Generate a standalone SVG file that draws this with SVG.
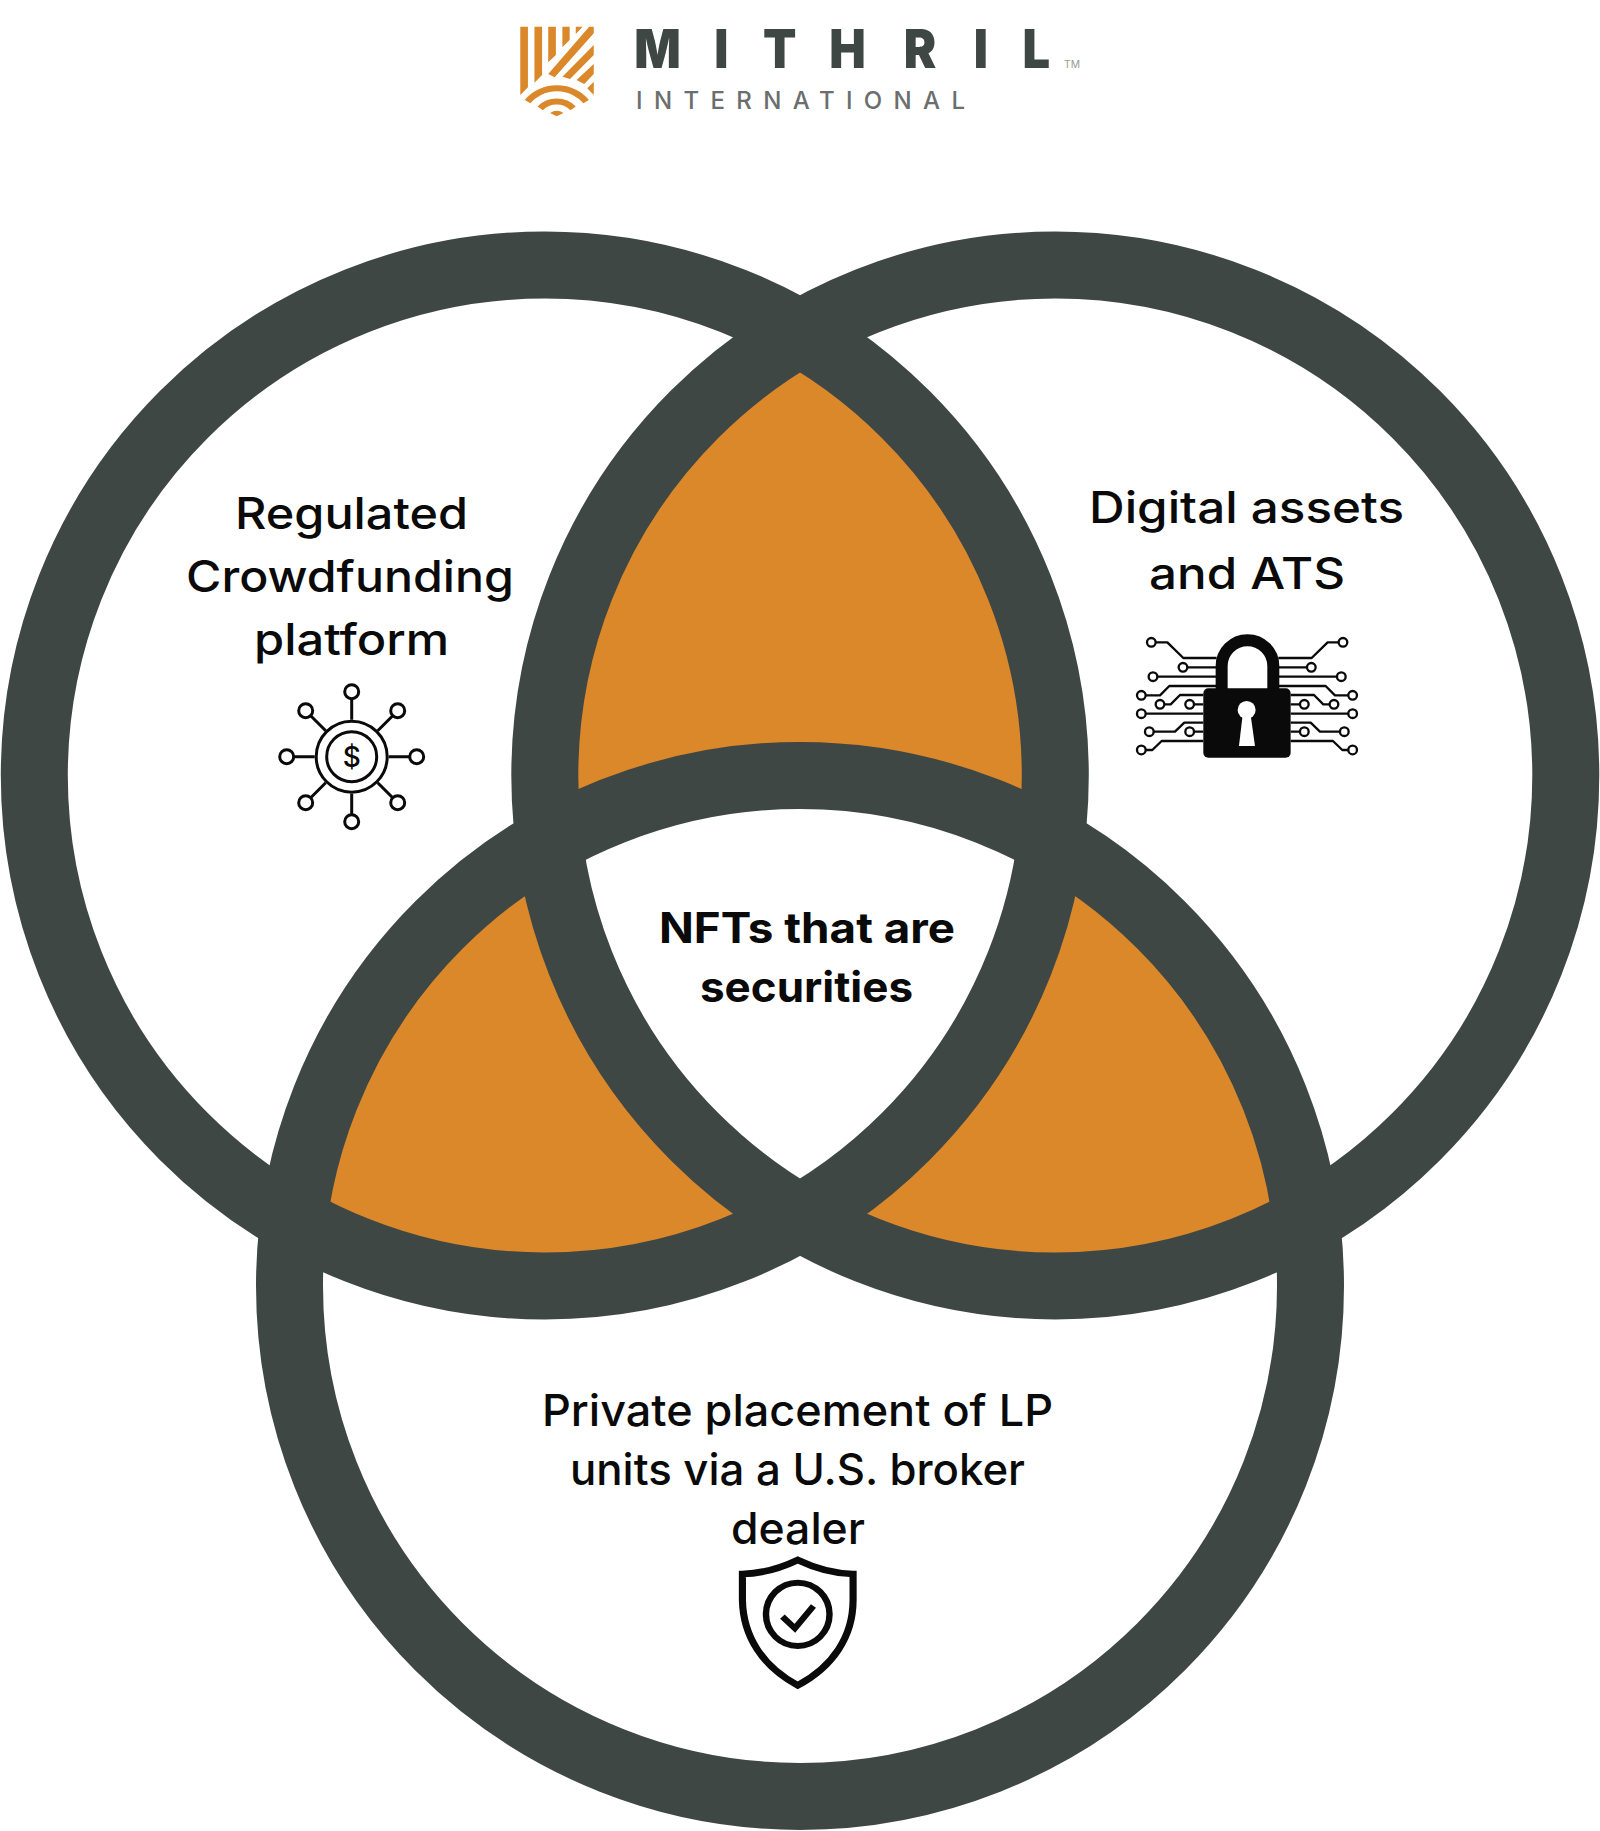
<svg xmlns="http://www.w3.org/2000/svg" width="1600" height="1831" viewBox="0 0 1600 1831">
<style>
.ring{fill:none;stroke:#3f4745;stroke-width:67}
.orange{fill:#da882a}
.lbl{font-family:"Inter","Liberation Sans",sans-serif;font-weight:500;fill:#0a0a0a;font-size:44px}
.bold{font-weight:700;font-size:42px}
.ic{fill:none;stroke:#0a0a0a;stroke-width:3}
.cir{fill:none;stroke:#0a0a0a;stroke-width:7;stroke-linejoin:round}
.log{fill:#da882a}
</style>
<rect width="1600" height="1831" fill="#fff"/>
<g id="logo">
<g transform="translate(500,0) scale(0.3827,0.3333)">
<path class="log" d="M53 80H73V262L53 285ZM90 80H110V225L90 248ZM126 80H146V165L126 187ZM163 80H182V120L163 142ZM198 80H216L198 102ZM233 80H245V100L143 232L126 222ZM245 135V165L183 237L163 230ZM245 192V222L220 252L200 240ZM245 245V285L228 265ZM131 339Q148 325 166 339L148 349Z"/>
<path d="M72 305A93 93 0 0 1 225 305M105 325A55 55 0 0 1 191 325" fill="none" stroke="#da882a" stroke-width="18"/>
</g>
<text transform="translate(638,68) scale(0.92,1)" x="-4 83 136 208 289 365 418" y="0" font-family="Inter,'Liberation Sans',sans-serif" font-weight="900" font-size="53" fill="#3f4745">MITHRIL</text>
<text x="636" y="109" textLength="329" lengthAdjust="spacing" font-family="Inter,'Liberation Sans',sans-serif" font-weight="500" font-size="24" fill="#6b6e6e">INTERNATIONAL</text>
<text x="1064" y="68" textLength="16" lengthAdjust="spacingAndGlyphs" font-family="Inter,'Liberation Sans',sans-serif" font-size="10" fill="#999">TM</text>
</g>
<g id="venn">
<path class="orange" d="M800 333.4A510.5 510.5 0 0 1 800 1217.6A510.5 510.5 0 0 1 800 333.4Z"/>
<path class="orange" d="M549 841.4A510.5 510.5 0 0 0 293.8 1220A510.5 510.5 0 0 0 800 1217.6A510.5 510.5 0 0 1 549 841.4Z"/>
<path class="orange" d="M1051 841.4A510.5 510.5 0 0 1 1306.2 1220A510.5 510.5 0 0 1 800 1217.6A510.5 510.5 0 0 0 1051 841.4Z"/>
<path fill="#fff" d="M800 1217.6A510.5 510.5 0 0 0 1051 841.4A510.5 510.5 0 0 0 549 841.4A510.5 510.5 0 0 0 800 1217.6Z"/>
<circle id="ring-left" class="ring" cx="544.8" cy="775.5" r="510.5"/>
<circle id="ring-right" class="ring" cx="1055.3" cy="775.5" r="510.5"/>
<circle id="ring-bottom" class="ring" cx="800" cy="1285.9" r="510.5"/>
</g>
<g id="node-crowdfunding">
<text class="lbl" x="235" y="529" textLength="233" lengthAdjust="spacingAndGlyphs">Regulated</text>
<text class="lbl" x="186" y="592" textLength="328" lengthAdjust="spacingAndGlyphs">Crowdfunding</text>
<text class="lbl" x="254" y="655" textLength="195" lengthAdjust="spacingAndGlyphs">platform</text>
<g transform="translate(351.7,756.7)">
<circle class="ic" r="35.5"/><circle class="ic" r="25"/>
<path class="ic" d="M0 -37V-58M0 37V58M-37 0H-58M37 0H58M-26 -26L-41 -41M26 -26L41 -41M-26 26L-41 41M26 26L41 41"/>
<circle class="ic" cy="-65" r="7"/><circle class="ic" cy="65" r="7"/><circle class="ic" cx="-65" r="7"/><circle class="ic" cx="65" r="7"/>
<circle class="ic" cx="-46" cy="-46" r="7"/><circle class="ic" cx="46" cy="-46" r="7"/><circle class="ic" cx="-46" cy="46" r="7"/><circle class="ic" cx="46" cy="46" r="7"/>
<text x="0" y="10" text-anchor="middle" font-family="Inter,'Liberation Sans',sans-serif" font-weight="500" font-size="28" fill="#0a0a0a">$</text>
</g>
</g>
<g id="node-digital">
<text class="lbl" x="1089" y="523" textLength="315" lengthAdjust="spacingAndGlyphs">Digital assets</text>
<text class="lbl" x="1149" y="589" textLength="196" lengthAdjust="spacingAndGlyphs">and ATS</text>
<g transform="translate(1060,470) scale(0.3333)">
<path class="cir" d="M287 517H322L370 564H470M382 592H470M292 620H470M257 676H300L328 648H470M313 703H332L360 675H430M402 703H430M257 731H430M281 785H345L373 758H430M402 785H430M257 840H277L305 813H430"/>
<path class="cir" d="M836 517H803L755 564H655M741 592H655M831 620H655M865 676H825L797 648H655M809 703H790L762 675H692M720 703H692M865 731H692M840 785H780L752 758H692M720 785H692M865 840H847L819 813H692"/>
<g class="cir"><circle cx="274" cy="517" r="13"/><circle cx="369" cy="592" r="13"/><circle cx="279" cy="620" r="13"/><circle cx="244" cy="676" r="13"/><circle cx="300" cy="703" r="13"/><circle cx="389" cy="703" r="13"/><circle cx="244" cy="731" r="13"/><circle cx="268" cy="785" r="13"/><circle cx="389" cy="785" r="13"/><circle cx="244" cy="840" r="13"/><circle cx="849" cy="517" r="13"/><circle cx="754" cy="592" r="13"/><circle cx="844" cy="620" r="13"/><circle cx="878" cy="676" r="13"/><circle cx="822" cy="703" r="13"/><circle cx="733" cy="703" r="13"/><circle cx="878" cy="731" r="13"/><circle cx="853" cy="785" r="13"/><circle cx="733" cy="785" r="13"/><circle cx="878" cy="840" r="13"/></g>
<path d="M485 665V588A77.5 77.5 0 0 1 640 588V665" fill="none" stroke="#0a0a0a" stroke-width="36"/>
<rect x="430" y="655" width="262" height="208" rx="15" fill="#0a0a0a"/>
<circle cx="560" cy="720" r="27" fill="#fff"/>
<path d="M548 735H572L585 828H537Z" fill="#fff"/>
</g>
</g>
<g id="node-private">
<text class="lbl" x="542" y="1426" textLength="511" lengthAdjust="spacingAndGlyphs">Private placement of LP</text>
<text class="lbl" x="570" y="1485" textLength="455" lengthAdjust="spacingAndGlyphs">units via a U.S. broker</text>
<text class="lbl" x="731" y="1544" textLength="134" lengthAdjust="spacingAndGlyphs">dealer</text>
<g transform="translate(520,1370) scale(0.357,0.3333)">
<path d="M778 570Q700 610 623 612V690C625 800 680 890 778 946C876 890 933 800 933 690V612Q856 610 778 570Z" fill="none" stroke="#0a0a0a" stroke-width="20"/>
<ellipse cx="778" cy="733" rx="89" ry="95" fill="none" stroke="#0a0a0a" stroke-width="18"/>
<path d="M735 740L770 775L822 708" fill="none" stroke="#0a0a0a" stroke-width="18"/>
</g>
</g>
<g id="node-nfts">
<text class="lbl bold" x="659" y="943" textLength="296" lengthAdjust="spacingAndGlyphs">NFTs that are</text>
<text class="lbl bold" x="700" y="1002" textLength="213" lengthAdjust="spacingAndGlyphs">securities</text>
</g>
</svg>
